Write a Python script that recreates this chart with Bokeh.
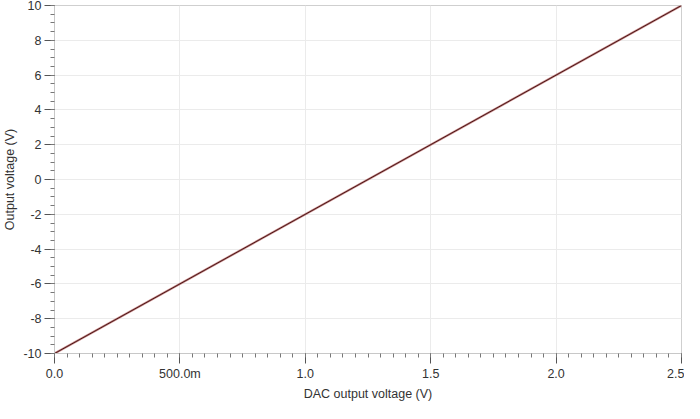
from bokeh.plotting import figure
from bokeh.models import SingleIntervalTicker
from bokeh.embed import file_html
from bokeh.resources import INLINE


# DAC output voltage (V) vs. output voltage (V)
dac_v = [0.0, 2.5]
out_v = [-10.0, 10.0]
ideal_v = [-10.0, 10.0]

x_ticks = [0.0, 0.5, 1.0, 1.5, 2.0, 2.5]
x_tick_labels = ['0.0', '500.0m', '1.0', '1.5', '2.0', '2.5']
y_ticks = [-10, -8, -6, -4, -2, 0, 2, 4, 6, 8, 10]
y_tick_labels = ['-10', '-8', '-6', '-4', '-2', '0', '2', '4', '6', '8', '10']

FONT = 'Liberation Sans'

p = figure(width=684, height=403, x_range=(0, 2.5), y_range=(-10, 10),
           x_axis_label='DAC output voltage (V)', y_axis_label='Output voltage (V)',
           output_backend='svg', toolbar_location=None,
           min_border_left=36, min_border_right=3, min_border_top=5, min_border_bottom=40)

p.line(dac_v, out_v, line_color='#bb7070', line_width=2.2, line_alpha=0.85)
p.line(dac_v, ideal_v, line_color='#4a1818', line_width=1)

# axes
p.xaxis.ticker = SingleIntervalTicker(interval=0.5, num_minor_ticks=10)
p.yaxis.ticker = SingleIntervalTicker(interval=2, num_minor_ticks=4)
p.xaxis.major_label_overrides = dict(zip(x_ticks, x_tick_labels))
p.yaxis.major_label_overrides = dict(zip(y_ticks, y_tick_labels))

for ax in (p.xaxis, p.yaxis):
    ax.axis_line_color = '#c8c8c8'
    ax.major_tick_line_color = '#555555'
    ax.minor_tick_line_color = '#777777'
    ax.major_tick_out = 10
    ax.major_tick_in = 0
    ax.minor_tick_out = 4
    ax.minor_tick_in = 0
    ax.major_label_standoff = 3
    ax.major_label_text_font = FONT
    ax.major_label_text_font_size = '12.5px'
    ax.major_label_text_color = '#333333'
    ax.axis_label_text_font = FONT
    ax.axis_label_text_font_size = '12.5px'
    ax.axis_label_text_font_style = 'normal'
    ax.axis_label_text_color = '#333333'
    ax.axis_label_standoff = 3

# grid + frame
p.grid.grid_line_color = '#ebebeb'
p.outline_line_color = '#cfcfcf'
p.background_fill_color = 'white'
p.border_fill_color = 'white'

open("out.html", "w").write(file_html(p, INLINE))
